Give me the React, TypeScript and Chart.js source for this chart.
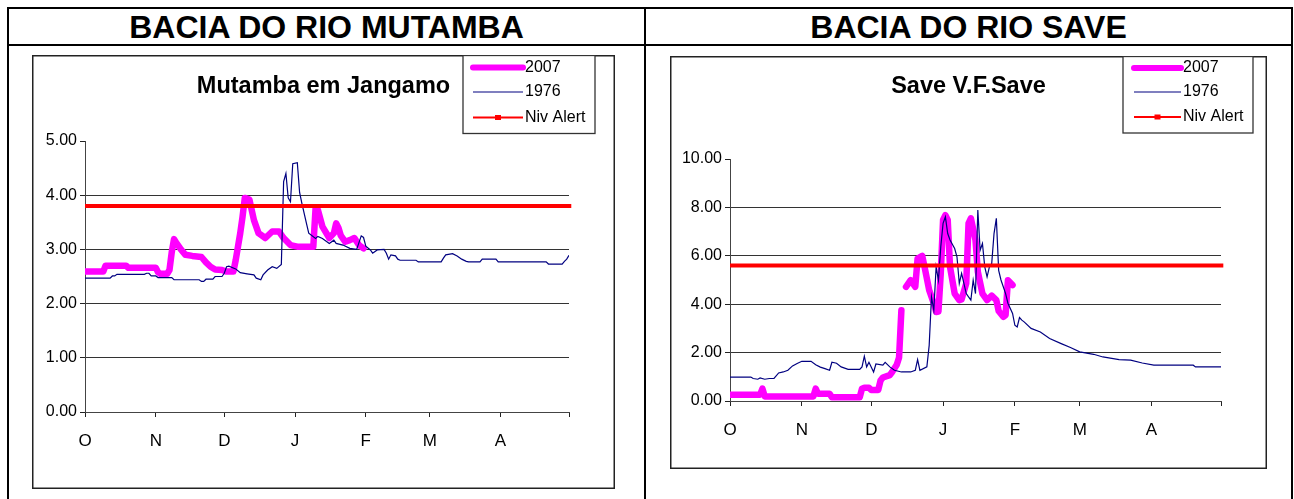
import React, { useEffect, useRef } from 'react';
import { Chart, registerables } from 'chart.js';

Chart.register(...registerables);

const FONT = '"Liberation Sans", Arial, Helvetica, sans-serif';

// ---- shared axis data (days counted from 1 October) ----
const MONTH_START_DAYS = [0, 31, 61, 92, 123, 151, 182, 212];
const MONTH_LABELS = ['O', 'N', 'D', 'J', 'F', 'M', 'A', ''];
const SERIES_NAMES = ['2007', '1976', 'Niv Alert'];
const ALERT_DAYS = [0, 213];

// ---- Mutamba em Jangamo ----
const MUTAMBA_Y_TICKS = [0, 1, 2, 3, 4, 5];
const MUTAMBA_ALERT = 3.8;
const MUTAMBA_2007: [number, number | null][] = [
  [0, 2.59], [8, 2.59], [9, 2.7], [18, 2.7], [19, 2.66], [31, 2.66], [32, 2.58], [33, 2.55], [36, 2.55],
  [37, 2.62], [38, 2.95], [39, 3.19], [40, 3.12], [42, 3.0], [44, 2.9], [47, 2.88], [51, 2.86], [53, 2.76],
  [55, 2.68], [57, 2.63], [60, 2.62], [62, 2.59], [65, 2.59], [66, 2.8], [67, 3.05], [68, 3.3], [69, 3.6],
  [70, 3.95], [72, 3.92], [74, 3.54], [76, 3.3], [79, 3.21], [82, 3.33], [85, 3.33], [87, 3.21], [90, 3.08],
  [93, 3.05], [100, 3.05], [101, 3.76], [102, 3.73], [104, 3.42], [107, 3.21], [109, 3.3], [110, 3.48],
  [111, 3.4], [112, 3.26], [114, 3.14], [116, 3.17], [118, 3.21], [120, 3.08], [122, 3.02],
];
const MUTAMBA_1976: [number, number][] = [
  [0, 2.47], [11, 2.47], [12, 2.51], [13, 2.51], [14, 2.54], [26, 2.54], [27, 2.56], [28, 2.56], [29, 2.51],
  [31, 2.51], [32, 2.48], [38, 2.48], [39, 2.44], [50, 2.44], [51, 2.41], [52, 2.41], [53, 2.45], [56, 2.45],
  [57, 2.5], [60, 2.5], [61, 2.56], [62, 2.68], [63, 2.69], [66, 2.64], [68, 2.57], [71, 2.55], [74, 2.53],
  [75, 2.47], [77, 2.44], [78, 2.53], [80, 2.62], [82, 2.68], [84, 2.65], [86, 2.72], [87, 4.25], [88, 4.4],
  [89, 3.95], [90, 3.88], [91, 4.58], [93, 4.6], [94, 4.05], [95, 3.85], [97, 3.48], [98, 3.3], [101, 3.2],
  [102, 3.24], [104, 3.2], [107, 3.11], [109, 3.17], [110, 3.11], [113, 3.08], [116, 3.02], [119, 3.0],
  [121, 3.25], [122, 3.22], [123, 3.06], [125, 2.99], [126, 2.93], [128, 2.99], [131, 3.0], [132, 2.93],
  [133, 2.82], [134, 2.9], [136, 2.88], [137, 2.82], [138, 2.8], [145, 2.8], [146, 2.77], [156, 2.77],
  [157, 2.84], [158, 2.9], [161, 2.92], [163, 2.88], [165, 2.82], [167, 2.78], [168, 2.77], [173, 2.77],
  [174, 2.82], [180, 2.82], [181, 2.77], [202, 2.77], [203, 2.73], [209, 2.73], [210, 2.78], [211, 2.82],
  [212, 2.89],
];

// ---- Save V.F.Save ----
const SAVE_Y_TICKS = [0, 2, 4, 6, 8, 10];
const SAVE_ALERT = 5.6;
const SAVE_2007: [number, number | null][] = [
  [0, 0.26], [13, 0.26], [14, 0.51], [15, 0.19], [36, 0.19], [37, 0.51], [38, 0.3], [43, 0.3], [44, 0.15],
  [56, 0.15], [57, 0.51], [58, 0.55], [60, 0.55], [61, 0.45], [64, 0.45], [65, 0.85], [66, 0.97], [69, 1.07],
  [70, 1.2], [72, 1.5], [73, 1.8], [74, 3.75], [75, null], [76, 4.72], [78, 4.99], [80, 4.72], [81, 5.89],
  [83, 6.0], [84, 5.54], [86, 4.58], [88, 4.03], [89, 3.68], [90, 3.7], [91, 5.27], [92, 7.48], [93, 7.68],
  [94, 7.48], [95, 5.54], [97, 4.44], [99, 4.17], [100, 4.2], [102, 4.86], [103, 7.34], [104, 7.55],
  [106, 6.65], [107, 5.34], [109, 4.44], [111, 4.17], [113, 4.35], [115, 4.17], [116, 3.72], [118, 3.48],
  [119, 3.55], [120, 4.99], [122, 4.79],
];
const SAVE_1976: [number, number][] = [
  [0, 0.99], [9, 0.99], [10, 0.93], [12, 0.9], [13, 0.95], [15, 0.9], [17, 0.93], [19, 0.93], [21, 1.16],
  [23, 1.2], [25, 1.27], [27, 1.45], [29, 1.55], [31, 1.64], [35, 1.64], [37, 1.5], [39, 1.4], [41, 1.34],
  [43, 1.27], [44, 1.6], [46, 1.56], [48, 1.41], [51, 1.31], [56, 1.31], [57, 1.41], [58, 1.85], [59, 1.41],
  [60, 1.6], [62, 1.2], [63, 1.53], [66, 1.48], [67, 1.6], [69, 1.41], [71, 1.27], [74, 1.2], [78, 1.2],
  [80, 1.27], [81, 1.71], [82, 1.27], [85, 1.41], [86, 2.3], [87, 4.3], [88, 3.75], [89, 5.54], [90, 4.99],
  [91, 6.37], [92, 7.34], [93, 7.61], [94, 6.92], [95, 6.65], [97, 6.3], [98, 5.96], [99, 4.86], [100, 5.27],
  [102, 4.44], [103, 4.3], [104, 4.17], [105, 4.99], [106, 4.44], [107, 7.89], [108, 6.23], [109, 6.51],
  [110, 5.54], [111, 5.13], [112, 5.54], [113, 5.68], [114, 6.92], [115, 7.55], [116, 5.4], [117, 5.0],
  [119, 4.44], [120, 4.04], [122, 3.62], [123, 3.13], [124, 3.06], [125, 3.45], [126, 3.34], [127, 3.27],
  [130, 3.0], [134, 2.85], [138, 2.58], [143, 2.37], [147, 2.21], [151, 2.03], [157, 1.93], [161, 1.82],
  [168, 1.71], [173, 1.69], [178, 1.57], [183, 1.48], [200, 1.48], [201, 1.41], [212, 1.41],
];

type Layout = {
  left: number; top: number; width: number; height: number;
  yWidth: number; padRight: number; padTop: number; padBottom: number; xHeight: number;
  titleY: number;
  legend: { x: number; y: number; w: number; h: number; itemY: number[]; s0: number; s1: number; tx: number };
};

type Props = {
  title: string;
  s2007: [number, number | null][];
  s1976: [number, number][];
  alert: number;
  yTicks: number[];
  layout: Layout;
};

function RiverChart({ title, s2007, s1976, alert, yTicks, layout }: Props) {
  const ref = useRef<HTMLCanvasElement | null>(null);
  useEffect(() => {
    if (!ref.current) return;
    const yMax = yTicks[yTicks.length - 1];
    const L = layout;
    const decor = {
      id: 'excelDecor',
      afterDraw(chart: any) {
        const ctx = chart.ctx as CanvasRenderingContext2D;
        ctx.save();
        // chart area border
        ctx.strokeStyle = '#222';
        ctx.lineWidth = 1.5;
        ctx.strokeRect(0.75, 0.75, chart.width - 1.5, chart.height - 1.5);
        // title
        ctx.fillStyle = '#000';
        ctx.font = `bold 23.5px ${FONT}`;
        ctx.textAlign = 'center';
        ctx.textBaseline = 'alphabetic';
        ctx.fillText(title, chart.width / 2, L.titleY);
        // legend
        const lg = L.legend;
        ctx.fillStyle = '#fff';
        ctx.fillRect(lg.x, lg.y, lg.w, lg.h);
        ctx.strokeStyle = '#333';
        ctx.lineWidth = 1.3;
        ctx.strokeRect(lg.x, lg.y, lg.w, lg.h);
        chart.data.datasets.forEach((ds: any, i: number) => {
          const y = lg.itemY[i];
          ctx.beginPath();
          ctx.strokeStyle = ds.borderColor;
          ctx.lineWidth = ds.legendWidth;
          ctx.lineCap = ds.borderCapStyle || 'butt';
          ctx.moveTo(lg.s0, y);
          ctx.lineTo(lg.s1, y);
          ctx.stroke();
          if (ds.pointStyle === 'rect') {
            ctx.fillStyle = ds.borderColor;
            const m = (lg.s0 + lg.s1) / 2;
            ctx.fillRect(m - 3, y - 2.5, 6, 5);
          }
          ctx.fillStyle = '#000';
          ctx.font = `16px ${FONT}`;
          ctx.textAlign = 'left';
          ctx.textBaseline = 'middle';
          ctx.fillText(ds.label, lg.tx, y);
        });
        ctx.restore();
      },
    };

    const chart = new Chart(ref.current, {
      type: 'line',
      data: {
        datasets: [
          {
            label: SERIES_NAMES[0],
            data: s2007.map(([x, y]) => ({ x, y })),
            borderColor: '#FF00FF',
            backgroundColor: '#FF00FF',
            borderWidth: 6.5,
            borderCapStyle: 'round',
            borderJoinStyle: 'round',
            pointRadius: 0,
            tension: 0,
            spanGaps: false,
            order: 3,
            legendWidth: 6,
          } as any,
          {
            label: SERIES_NAMES[1],
            data: s1976.map(([x, y]) => ({ x, y })),
            borderColor: '#000080',
            backgroundColor: '#000080',
            borderWidth: 1.2,
            pointRadius: 0,
            tension: 0,
            order: 2,
            legendWidth: 1.2,
          } as any,
          {
            label: SERIES_NAMES[2],
            data: ALERT_DAYS.map((x) => ({ x, y: alert })),
            borderColor: '#FF0000',
            backgroundColor: '#FF0000',
            borderWidth: 4,
            pointStyle: 'rect',
            pointRadius: 0,
            tension: 0,
            clip: false,
            order: 1,
            legendWidth: 2.2,
          } as any,
        ],
      },
      options: {
        animation: false,
        responsive: false,
        events: [],
        layout: { padding: { left: 0, right: L.padRight, top: L.padTop, bottom: L.padBottom } },
        plugins: { legend: { display: false }, title: { display: false }, tooltip: { enabled: false } },
        scales: {
          x: {
            type: 'linear',
            min: MONTH_START_DAYS[0],
            max: MONTH_START_DAYS[MONTH_START_DAYS.length - 1],
            afterBuildTicks: (s: any) => { s.ticks = MONTH_START_DAYS.map((v) => ({ value: v })); },
            afterFit: (s: any) => { s.height = L.xHeight; },
            grid: { drawOnChartArea: false, drawTicks: true, tickLength: 5, tickColor: '#222', tickWidth: 1 },
            border: { display: true, color: '#444', width: 1 },
            ticks: {
              autoSkip: false,
              maxRotation: 0,
              padding: 14,
              color: '#000',
              font: { family: FONT, size: 17 },
              callback: (_v: any, i: number) => MONTH_LABELS[i],
            },
          },
          y: {
            type: 'linear',
            min: yTicks[0],
            max: yMax,
            afterBuildTicks: (s: any) => { s.ticks = yTicks.map((v) => ({ value: v })); },
            afterFit: (s: any) => { s.width = L.yWidth; },
            grid: {
              drawTicks: true,
              tickLength: 5,
              tickColor: '#222',
              lineWidth: 1,
              color: (c: any) => (c.tick && (c.tick.value === 0 || c.tick.value === yMax) ? 'rgba(0,0,0,0)' : '#333'),
            },
            border: { display: true, color: '#444', width: 1 },
            ticks: {
              padding: 3,
              color: '#000',
              font: { family: FONT, size: 16 },
              callback: (v: any) => Number(v).toFixed(2),
            },
          },
        },
      } as any,
      plugins: [decor],
    });
    return () => chart.destroy();
  }, [title, s2007, s1976, alert, yTicks, layout]);

  return (
    <canvas
      ref={ref}
      width={layout.width}
      height={layout.height}
      style={{ position: 'absolute', left: layout.left, top: layout.top, width: layout.width, height: layout.height }}
    />
  );
}

const MUTAMBA_LAYOUT: Layout = {
  left: 32, top: 55, width: 583, height: 434,
  yWidth: 53, padRight: 46, padTop: 86, padBottom: 37, xHeight: 40,
  titleY: 38,
  legend: { x: 431, y: 0.5, w: 132, h: 78, itemY: [12.5, 37, 62.5], s0: 441, s1: 491, tx: 493 },
};

const SAVE_LAYOUT: Layout = {
  left: 670, top: 56, width: 597, height: 413,
  yWidth: 60, padRight: 46, padTop: 103, padBottom: 28, xHeight: 40,
  titleY: 37,
  legend: { x: 453, y: 0.5, w: 130, h: 76.5, itemY: [12, 36, 61], s0: 464, s1: 511, tx: 513 },
};

const line = (left: number, top: number, width: number, height: number) => (
  <div style={{ position: 'absolute', left, top, width, height, background: '#000' }} />
);

const headerStyle: React.CSSProperties = {
  position: 'absolute',
  top: 11,
  fontFamily: FONT,
  fontWeight: 'bold',
  fontSize: 32,
  lineHeight: '32px',
  textAlign: 'center',
  color: '#000',
  whiteSpace: 'nowrap',
};

export default function App() {
  return (
    <div style={{ position: 'absolute', left: 0, top: 0, width: 1294, height: 499, overflow: 'hidden', background: '#fff' }}>
      {line(7, 7, 1286, 2)}
      {line(7, 7, 2, 492)}
      {line(1291, 7, 2, 492)}
      {line(644, 7, 2, 492)}
      {line(7, 44, 1286, 2)}
      <div style={{ ...headerStyle, left: 9, width: 635 }}>BACIA DO RIO MUTAMBA</div>
      <div style={{ ...headerStyle, left: 646, width: 645 }}>BACIA DO RIO SAVE</div>
      <RiverChart
        title="Mutamba em Jangamo"
        s2007={MUTAMBA_2007}
        s1976={MUTAMBA_1976}
        alert={MUTAMBA_ALERT}
        yTicks={MUTAMBA_Y_TICKS}
        layout={MUTAMBA_LAYOUT}
      />
      <RiverChart
        title="Save V.F.Save"
        s2007={SAVE_2007}
        s1976={SAVE_1976}
        alert={SAVE_ALERT}
        yTicks={SAVE_Y_TICKS}
        layout={SAVE_LAYOUT}
      />
    </div>
  );
}
